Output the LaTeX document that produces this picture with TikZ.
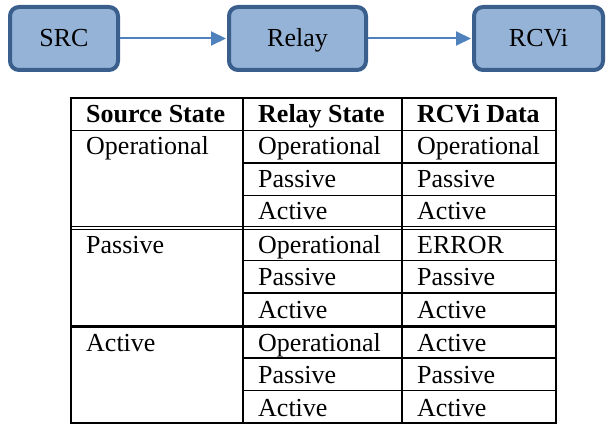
\documentclass[tikz,border=0pt]{standalone}
\usepackage{fontspec}
\setmainfont{Liberation Serif}
\usetikzlibrary{arrows.meta}
\definecolor{boxfill}{HTML}{95B3D7}
\definecolor{boxline}{HTML}{3A5F8C}
\definecolor{flow}{HTML}{4F81BD}
\tikzset{
  stage/.style={draw=boxline, fill=boxfill, line width=4pt, rounded corners=9pt,
    minimum height=63pt, inner sep=0pt, text height=17pt, text depth=0pt,
    font=\fontsize{26}{30}\selectfont},
  flowarrow/.style={draw=flow, line width=2pt,
    -{Triangle[length=15pt,width=14pt]}, shorten >=1pt},
  cell/.style={anchor=base west, inner sep=0pt, font=\fontsize{26}{30}\selectfont},
  headcell/.style={cell, font=\fontsize{26}{30}\selectfont\bfseries},
  rule/.style={line width=1.2pt},
  frame/.style={line width=2pt}
}
\begin{document}
\begin{tikzpicture}[x=1pt,y=-1pt]
\useasboundingbox (0,0) rectangle (606,425);

% the three stages of the chain
\node[stage, minimum width=108pt] (src) at (64,38.5) {SRC};
\node[stage, minimum width=137pt] (relay) at (297.5,38.5) {Relay};
\node[stage, minimum width=129pt] (rcvi) at (538.5,38.5) {RCVi};
\draw[flowarrow] (src.east) -- (relay.west);
\draw[flowarrow] (relay.east) -- (rcvi.west);

% table grid: columns at 71 | 243 | 402 | 556, rows of 32.5 from 98
\def\rh{32.5}
\foreach \r in {2,3,5,6,8,9}
  \draw[rule] (243,98+\r*\rh) -- (556,98+\r*\rh);
\draw[line width=1.5pt] (71,130.5) -- (556,130.5);
\draw[line width=1pt] (71,226.3) -- (556,226.3);
\draw[line width=1pt] (71,230.0) -- (556,230.0);
\draw[line width=3pt] (71,326) -- (556,326);
\draw[rule] (243,98) -- (243,423);
\draw[rule] (402,98) -- (402,423);
\draw[frame] (71,98) rectangle (556,423);

% header
\node[headcell] (h1) at (86,122.5) {Source State};
\node[headcell] (h2) at (258,122.5) {Relay State};
\node[headcell] (h3) at (417,122.5) {RCVi Data};

% group: Operational source
\node[cell] (s1) at (86,155) {Operational};
\node[cell] (r11) at (258,155) {Operational};
\node[cell] (d11) at (417,155) {Operational};
\node[cell] (r12) at (258,187.5) {Passive};
\node[cell] (d12) at (417,187.5) {Passive};
\node[cell] (r13) at (258,220) {Active};
\node[cell] (d13) at (417,220) {Active};

% group: Passive source
\node[cell] (s2) at (86,253.5) {Passive};
\node[cell] (r21) at (258,253.5) {Operational};
\node[cell] (d21) at (417,253.5) {ERROR};
\node[cell] (r22) at (258,286) {Passive};
\node[cell] (d22) at (417,286) {Passive};
\node[cell] (r23) at (258,318.5) {Active};
\node[cell] (d23) at (417,318.5) {Active};

% group: Active source
\node[cell] (s3) at (86,351) {Active};
\node[cell] (r31) at (258,351) {Operational};
\node[cell] (d31) at (417,351) {Active};
\node[cell] (r32) at (258,383.5) {Passive};
\node[cell] (d32) at (417,383.5) {Passive};
\node[cell] (r33) at (258,416) {Active};
\node[cell] (d33) at (417,416) {Active};
\end{tikzpicture}
\end{document}
